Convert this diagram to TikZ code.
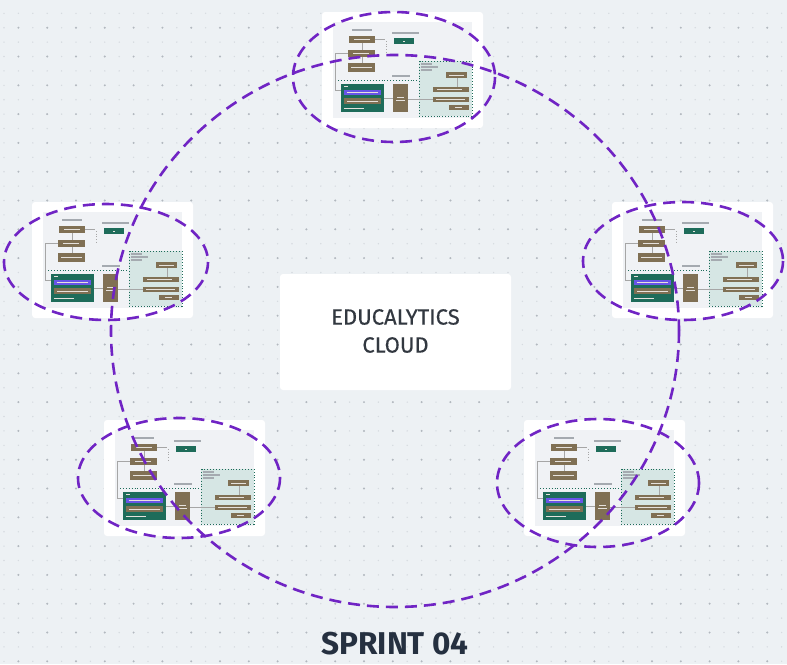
\documentclass[tikz,border=0pt]{standalone}
\usepackage{fontspec}
\setmainfont{Fira Sans}
\newfontfamily\cloudfont[FakeBold=0.4]{Fira Sans}
\definecolor{bgc}{RGB}{237,241,244}
\definecolor{dotminor}{RGB}{214,219,224}
\definecolor{dotmajor}{RGB}{178,184,191}
\definecolor{purp}{RGB}{112,36,196}
\definecolor{cloudtxt}{RGB}{50,56,64}
\definecolor{titletxt}{RGB}{37,48,64}
\definecolor{tbrownc}{RGB}{128,112,84}
\definecolor{ttealc}{RGB}{30,108,90}
\definecolor{tpurpc}{RGB}{104,84,232}
\definecolor{tpanelc}{RGB}{214,230,228}
\definecolor{tinnerc}{RGB}{240,242,245}
\definecolor{tbarc}{RGB}{165,170,176}
\tikzset{
  pdash/.style={draw=purp, line width=2.6pt, dash pattern=on 12pt off 7pt},
  tbrown/.style={fill=tbrownc},
  tteal/.style={fill=ttealc},
  tpurp/.style={fill=tpurpc},
  tbar/.style={draw=tbarc, line width=1.1pt},
  tbarw/.style={draw=white!80!tbrownc, line width=0.9pt},
  tline/.style={draw=gray!70, line width=0.7pt},
  tdot/.style={draw=ttealc, line width=0.9pt, dotted},
  thumb/.pic={
    \fill[white, rounded corners=3pt] (0,0) rectangle (161,116);
    \fill[tinnerc] (11,10) rectangle (150,106);
    \draw[tbar] (30,18) -- (50,18);
    \draw[tbar] (70,21) -- (97,21);
    \fill[tbrown] (27,24) rectangle (53,31);
    \draw[tbarw] (32,27.5) -- (48,27.5);
    \fill[tteal] (72,26) rectangle (92,32);
    \draw[tbarw] (81,29) -- (83,29);
    \fill[tbrown] (26,38) rectangle (53,45);
    \draw[tbarw] (31,41.5) -- (47,41.5);
    \fill[tbrown] (26,51) rectangle (53,60);
    \draw[tbarw] (29,55.5) -- (50,55.5);
    \draw[tline] (53,27.5) -- (63,27.5);
    \draw[tline, dotted] (64,29) -- (64,40);
    \draw[tline] (40,31) -- (40,38);
    \draw[tline] (40,45) -- (40,51);
    \draw[tline] (26,41.5) -- (13,41.5) -- (13,78) -- (19,78);
    \draw[tdot] (16,68) -- (96,68);
    \draw[tbar] (70,64) -- (88,64);
    \fill[tteal] (19,72) rectangle (62,100);
    \fill[tpurp] (22,78) rectangle (59,83);
    \draw[tbarw] (25,80.5) -- (56,80.5);
    \fill[tbrown] (22,86) rectangle (59,92);
    \draw[tbarw] (25,89) -- (56,89);
    \draw[tbarw] (22,96.5) -- (42,96.5);
    \draw[tbarw] (22,74.5) -- (26,74.5);
    \draw[tline] (62,86) -- (71,86);
    \fill[tbrown] (71,72) rectangle (86,100);
    \draw[tbarw] (75,85) -- (82,85);
    \draw[tbarw] (74,88) -- (83,88);
    \fill[tpanelc] (97,49) rectangle (150,104);
    \draw[tdot] (97,49) rectangle (150,104);
    \draw[tline] (86,87) -- (111,87);
    \draw[tbar] (99,52) -- (110,52);
    \draw[tbar] (99,55) -- (116,55);
    \draw[tbar] (99,58) -- (110,58);
    \fill[tbrown] (124,60) rectangle (145,66);
    \draw[tbarw] (127,63) -- (142,63);
    \draw[tline] (135,66) -- (135,75);
    \fill[tbrown] (111,75) rectangle (147,80);
    \draw[tbarw] (115,77.5) -- (140,77.5);
    \fill[tbrown] (111,85) rectangle (147,90);
    \draw[tbarw] (114,87.5) -- (143,87.5);
    \fill[tbrown] (127,93) rectangle (147,98);
    \draw[tbarw] (133,95.5) -- (140,95.5);
  }
}
\begin{document}
\begin{tikzpicture}[x=1pt, y=-1pt]
\useasboundingbox (0,0) rectangle (787,664);
\fill[bgc] (0,0) rectangle (787,664);
% dot grid
\foreach \i in {0,...,54} {
  \foreach \j in {0,...,45} {
    \fill[dotminor] ({4+14.4*\i},{13.3+14.4*\j}) circle (0.8);
  }
}
\foreach \i in {0,...,26} {
  \foreach \j in {0,...,22} {
    \fill[dotmajor] ({18.4+28.8*\i},{27.7+28.8*\j}) circle (1.1);
  }
}
% thumbnails
\pic at (322,12) {thumb};
\pic at (32,202) {thumb};
\pic at (612,202) {thumb};
\pic at (104,420) {thumb};
\pic at (524,420) {thumb};
% central box
\node[fill=white, rounded corners=3pt, minimum width=231pt, minimum height=116pt, inner sep=0pt] (cloudbox) at (395.5,332) {};
\node[font=\cloudfont\fontsize{22}{28}\selectfont, text=cloudtxt, align=center, inner sep=0pt] (cloudtext) at (395.5,331) {EDUCALYTICS\\CLOUD};
% big dashed circle
\draw[pdash] (395,331) ellipse [x radius=284, y radius=276];
% ellipses
\draw[pdash] (394,77) ellipse [x radius=101, y radius=65];
\draw[pdash] (106,262) ellipse [x radius=102, y radius=58];
\draw[pdash] (683,261) ellipse [x radius=100, y radius=59];
\draw[pdash] (179,478) ellipse [x radius=101, y radius=60];
\draw[pdash] (598,483) ellipse [x radius=101, y radius=64];
% title
\node[font=\fontsize{31.5}{36}\selectfont\bfseries, text=titletxt, anchor=base, inner sep=0pt] (title) at (395,654) {SPRINT 04};
\end{tikzpicture}
\end{document}
